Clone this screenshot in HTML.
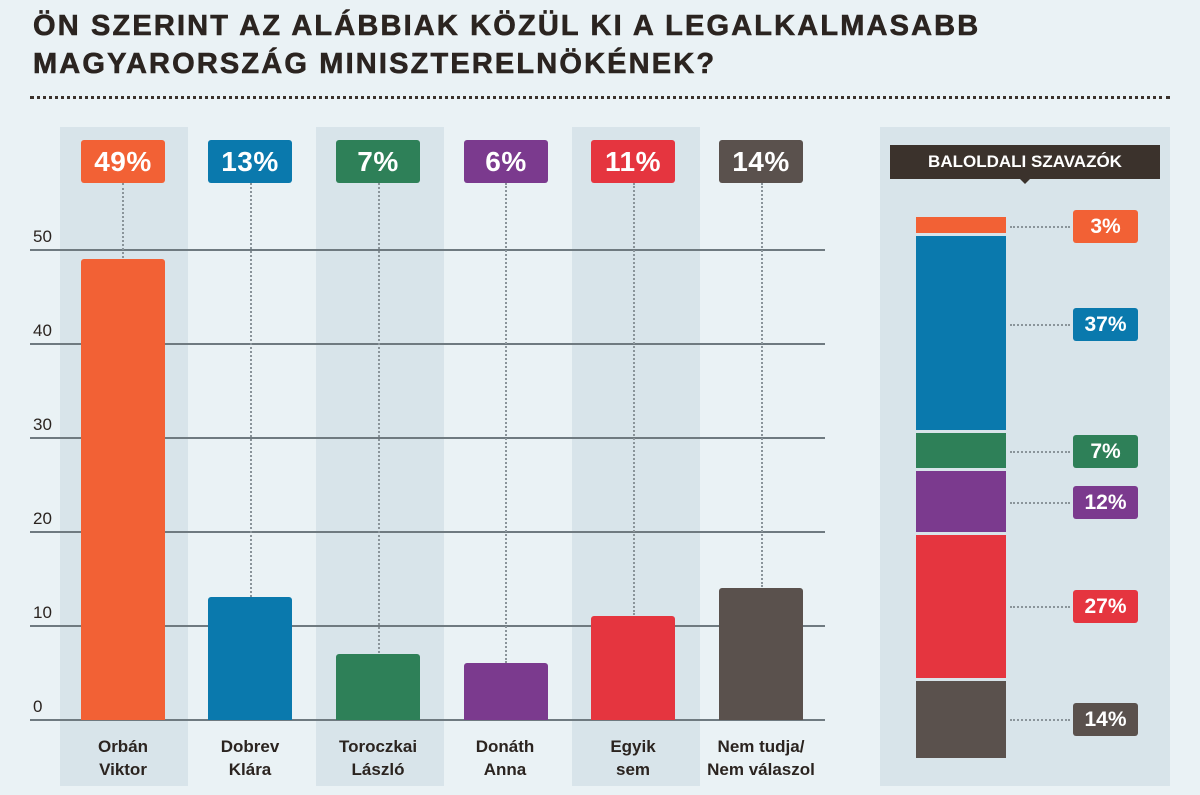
<!DOCTYPE html>
<html><head><meta charset="utf-8"><style>
body{margin:0;width:1200px;height:795px;background:#eaf2f5;position:relative;overflow:hidden;font-family:"Liberation Sans",sans-serif}
div{position:absolute;box-sizing:border-box}
.t{left:33px;font-weight:bold;font-size:29px;color:#2b2420;letter-spacing:2.15px;-webkit-text-stroke:0.6px #2b2420}
.col{top:127px;height:659px;width:128px;background:#d8e4ea}
.g{left:30px;width:795px;height:2px;background:#6f7a80}
.yl{left:33px;font-size:17px;color:#2b2420}
.bar{width:84px;border-radius:3px 3px 0 0}
.lab{top:140px;width:84px;height:43px;border-radius:3px;color:#fff;font-weight:bold;font-size:28px;text-align:center;line-height:43px;letter-spacing:0.5px}
.dv{width:0;border-left:2px dotted #8a949a}
.cat{top:735px;width:140px;text-align:center;font-weight:bold;font-size:17px;line-height:23px;color:#2b2420}
.seg{left:916px;width:90px}
.rl{left:1073px;width:65px;height:33px;border-radius:3px;color:#fff;font-weight:bold;font-size:21px;text-align:center;line-height:33px}
.dh{left:1010px;width:60px;height:0;border-top:2px dotted #8a949a}
</style></head><body>
<div class="t" style="top:10px">ÖN SZERINT AZ ALÁBBIAK KÖZÜL KI A LEGALKALMASABB</div>
<div class="t" style="top:48px">MAGYARORSZÁG MINISZTERELNÖKÉNEK?</div>
<div style="left:30px;top:96px;width:1140px;border-top:3px dotted #3b322c"></div>
<div class="col" style="left:60px"></div>
<div class="col" style="left:316px"></div>
<div class="col" style="left:572px"></div>
<div style="left:880px;top:127px;width:290px;height:659px;background:#d8e4ea"></div>

<div class="g" style="top:249px"></div><div class="yl" style="top:227px">50</div>
<div class="g" style="top:343px"></div><div class="yl" style="top:321px">40</div>
<div class="g" style="top:437px"></div><div class="yl" style="top:415px">30</div>
<div class="g" style="top:531px"></div><div class="yl" style="top:509px">20</div>
<div class="g" style="top:625px"></div><div class="yl" style="top:603px">10</div>
<div class="g" style="top:719px"></div><div class="yl" style="top:697px">0</div>

<div class="dv" style="left:122px;top:183px;height:75px"></div>
<div class="dv" style="left:250px;top:183px;height:414px"></div>
<div class="dv" style="left:378px;top:183px;height:470px"></div>
<div class="dv" style="left:505px;top:183px;height:480px"></div>
<div class="dv" style="left:633px;top:183px;height:432px"></div>
<div class="dv" style="left:761px;top:183px;height:404px"></div>

<div class="bar" style="left:81px;top:259px;height:461px;background:#f26135"></div>
<div class="bar" style="left:208px;top:597px;height:123px;background:#0a79ad"></div>
<div class="bar" style="left:336px;top:654px;height:66px;background:#2e8058"></div>
<div class="bar" style="left:464px;top:663px;height:57px;background:#7b3a8e"></div>
<div class="bar" style="left:591px;top:616px;height:104px;background:#e5353f"></div>
<div class="bar" style="left:719px;top:588px;height:132px;background:#5a514d"></div>

<div class="lab" style="left:81px;background:#f26135">49%</div>
<div class="lab" style="left:208px;background:#0a79ad">13%</div>
<div class="lab" style="left:336px;background:#2e8058">7%</div>
<div class="lab" style="left:464px;background:#7b3a8e">6%</div>
<div class="lab" style="left:591px;background:#e5353f">11%</div>
<div class="lab" style="left:719px;background:#5a514d">14%</div>

<div class="cat" style="left:53px">Orbán<br>Viktor</div>
<div class="cat" style="left:180px">Dobrev<br>Klára</div>
<div class="cat" style="left:308px">Toroczkai<br>László</div>
<div class="cat" style="left:435px">Donáth<br>Anna</div>
<div class="cat" style="left:563px">Egyik<br>sem</div>
<div class="cat" style="left:681px;width:160px">Nem tudja/<br>Nem válaszol</div>

<div style="left:890px;top:145px;width:270px;height:34px;background:#3b322c;color:#fff;font-weight:bold;font-size:17px;text-align:center;line-height:34px">BALOLDALI SZAVAZÓK</div>
<div style="left:1019px;top:178px;width:0;height:0;border-left:6px solid transparent;border-right:6px solid transparent;border-top:6px solid #3b322c"></div>

<div class="seg" style="top:217px;height:16px;background:#f26135"></div>
<div class="seg" style="top:236px;height:194px;background:#0a79ad"></div>
<div class="seg" style="top:433px;height:35px;background:#2e8058"></div>
<div class="seg" style="top:471px;height:61px;background:#7b3a8e"></div>
<div class="seg" style="top:535px;height:143px;background:#e5353f"></div>
<div class="seg" style="top:681px;height:77px;background:#5a514d"></div>

<div class="dh" style="top:226px"></div><div class="rl" style="top:210px;background:#f26135">3%</div>
<div class="dh" style="top:324px"></div><div class="rl" style="top:308px;background:#0a79ad">37%</div>
<div class="dh" style="top:451px"></div><div class="rl" style="top:435px;background:#2e8058">7%</div>
<div class="dh" style="top:502px"></div><div class="rl" style="top:486px;background:#7b3a8e">12%</div>
<div class="dh" style="top:606px"></div><div class="rl" style="top:590px;background:#e5353f">27%</div>
<div class="dh" style="top:719px"></div><div class="rl" style="top:703px;background:#5a514d">14%</div>
</body></html>
